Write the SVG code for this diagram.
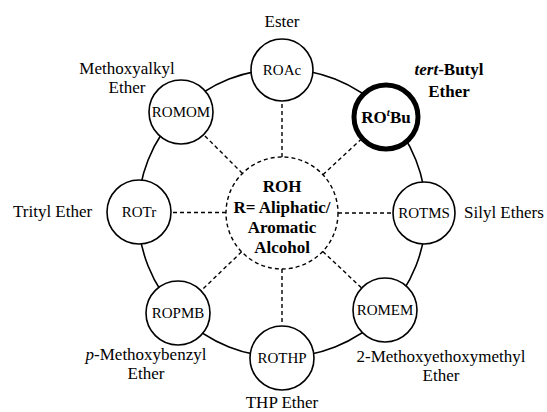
<svg xmlns="http://www.w3.org/2000/svg" width="547" height="412" viewBox="0 0 547 412">
<style>
.ring{fill:none;stroke:#000;stroke-width:1.6}
.node{fill:#fff;stroke:#000;stroke-width:1.6}
.bold-node{fill:#fff;stroke:#000;stroke-width:5}
.dash{fill:none;stroke:#000;stroke-width:1.4;stroke-dasharray:4 3}
.center{fill:#fff;stroke:#000;stroke-width:1.4;stroke-dasharray:4 3}
.nl{font-size:15px;text-anchor:middle;fill:#000}
.ol{font-size:17px;fill:#000}
.cl{font-size:17px;font-weight:bold;text-anchor:middle;fill:#000}
</style>
<rect width="547" height="412" fill="#fff"/>
<g id="connectors">
<circle class="ring" cx="282" cy="213" r="144"/>
<line class="dash" x1="282" y1="157" x2="282" y2="102"/>
<line class="dash" x1="282" y1="269" x2="282" y2="325"/>
<line class="dash" x1="226" y1="212.5" x2="171" y2="212.5"/>
<line class="dash" x1="338" y1="213" x2="392" y2="213"/>
<line class="dash" x1="242.4" y1="173.4" x2="203.7" y2="134.7"/>
<line class="dash" x1="322.9" y1="174.8" x2="361.1" y2="139.2"/>
<line class="dash" x1="322.8" y1="251.4" x2="361.7" y2="288.1"/>
<line class="dash" x1="241.6" y1="251.8" x2="201" y2="290.8"/>
</g>
<g font-family="Liberation Serif, Times New Roman, DejaVu Serif, serif">
<g id="center">
<circle class="center" cx="282" cy="213" r="56"/>
<text class="cl" x="282" y="192">ROH</text>
<text class="cl" x="282" y="213">R= Aliphatic/</text>
<text class="cl" x="282" y="233">Aromatic</text>
<text class="cl" x="282" y="253">Alcohol</text>
</g>
<g id="roac">
<circle class="node" cx="282" cy="70" r="31"/>
<text class="nl" x="282" y="75">ROAc</text>
<text class="ol" x="282" y="27" text-anchor="middle">Ester</text>
</g>
<g id="rotbu">
<circle class="bold-node" cx="386" cy="117" r="32"/>
<text class="cl" x="386" y="123">RO<tspan font-style="italic" font-size="11" dy="-7">t</tspan><tspan dy="7">Bu</tspan></text>
<text class="cl" x="449" y="75"><tspan font-style="italic">tert</tspan>-Butyl</text>
<text class="cl" x="449" y="97">Ether</text>
</g>
<g id="rotms">
<circle class="node" cx="424" cy="213" r="31"/>
<text class="nl" x="424" y="218">ROTMS</text>
<text class="ol" x="464" y="218">Silyl Ethers</text>
</g>
<g id="romem">
<circle class="node" cx="385" cy="310" r="32"/>
<text class="nl" x="385" y="315">ROMEM</text>
<text class="ol" x="441" y="362" text-anchor="middle">2-Methoxyethoxymethyl</text>
<text class="ol" x="441" y="381" text-anchor="middle">Ether</text>
</g>
<g id="rothp">
<circle class="node" cx="282" cy="358" r="32"/>
<text class="nl" x="282" y="363">ROTHP</text>
<text class="ol" x="282" y="408" text-anchor="middle">THP Ether</text>
</g>
<g id="ropmb">
<circle class="node" cx="178" cy="313" r="32"/>
<text class="nl" x="178" y="318">ROPMB</text>
<text class="ol" x="146" y="360" text-anchor="middle"><tspan font-style="italic">p</tspan>-Methoxybenzyl</text>
<text class="ol" x="146" y="379" text-anchor="middle">Ether</text>
</g>
<g id="rotr">
<circle class="node" cx="139" cy="212" r="32"/>
<text class="nl" x="139" y="217">ROTr</text>
<text class="ol" x="13" y="217">Trityl Ether</text>
</g>
<g id="romom">
<circle class="node" cx="181" cy="112" r="32"/>
<text class="nl" x="181" y="117">ROMOM</text>
<text class="ol" x="127" y="74" text-anchor="middle">Methoxyalkyl</text>
<text class="ol" x="127" y="93" text-anchor="middle">Ether</text>
</g>
</g>
</svg>
